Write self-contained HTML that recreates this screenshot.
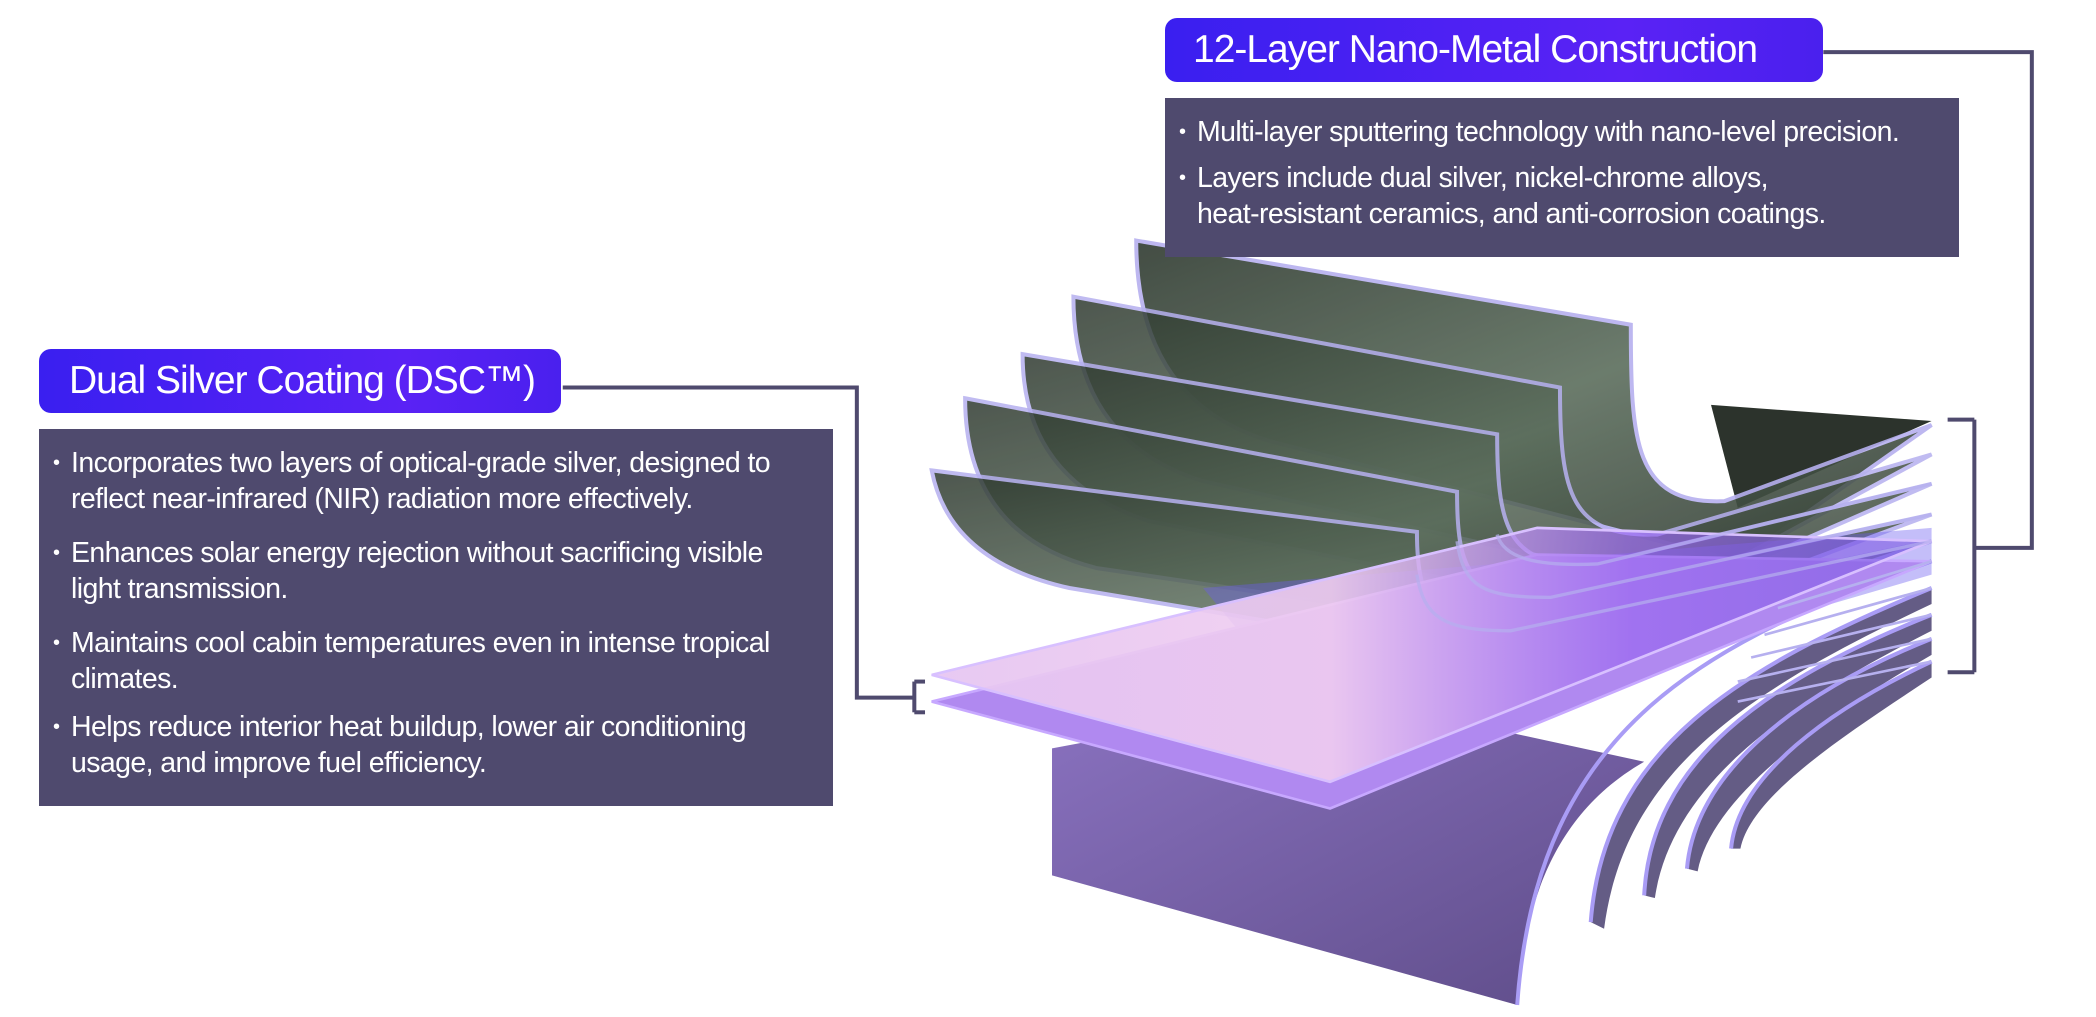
<!DOCTYPE html>
<html><head><meta charset="utf-8"><style>
body{margin:0;width:2096px;height:1017px;background:#fff;position:relative;overflow:hidden;font-family:"Liberation Sans",sans-serif;}
.pill{position:absolute;border-radius:12px;background:linear-gradient(90deg,#3a1ff0,#5a22f5 70%,#4a20ee);color:#fff;font-size:39px;letter-spacing:-1px;box-sizing:border-box;display:flex;align-items:center;white-space:nowrap;}
.box{position:absolute;background:#4f4a6e;color:#fff;font-size:28.5px;letter-spacing:-0.6px;box-sizing:border-box;white-space:nowrap;}
.box p{margin:0;position:relative;padding-left:32px;line-height:36px;}
.box p:before{content:"•";position:absolute;left:14px;font-size:20px;}
svg{position:absolute;left:0;top:0}
</style></head><body>
<svg width="2096" height="1017" viewBox="0 0 1568 761" preserveAspectRatio="none">
<defs>
<linearGradient id="g" x1="0" y1="0" x2="1" y2="1"><stop offset="0" stop-color="#2f3a30"/><stop offset="0.5" stop-color="#5c6e5d"/><stop offset="1" stop-color="#2e372f"/></linearGradient>
<linearGradient id="pk" x1="0" y1="0" x2="1" y2="0"><stop offset="0" stop-color="#e6c6f2" stop-opacity="0.95"/><stop offset="0.4" stop-color="#f0cdf0" stop-opacity="0.9"/><stop offset="0.7" stop-color="#9a68f0" stop-opacity="0.7"/><stop offset="1" stop-color="#7a5ae0" stop-opacity="0.6"/></linearGradient>
<linearGradient id="pu" x1="0" y1="0" x2="1" y2="1"><stop offset="0" stop-color="#8a72c0"/><stop offset="1" stop-color="#5e4c88"/></linearGradient>
</defs>
<g fill="none" stroke="#4f4a6e" stroke-width="3">
<polyline points="421,290 641,290 641,522 684,522"/>
<polyline points="684,510 684,533"/><polyline points="684,510 692,510"/><polyline points="684,533 692,533"/>
<polyline points="1364,39 1520,39 1520,410 1477,410"/>
<polyline points="1477,314 1477,503"/><polyline points="1477,314 1457,314"/><polyline points="1477,503 1457,503"/>
</g>
<path d="M787,560 L787,655 L1135,752 C1140,680 1160,610 1230,570 L1000,520 Z" fill="url(#pu)"/>
<g fill="#4a4070" opacity="0.85">
<path d="M1445,440 C1300,500 1200,560 1190,690 L1200,695 C1215,580 1300,520 1445,452Z"/>
<path d="M1445,460 C1320,510 1235,570 1230,670 L1238,672 C1250,590 1330,530 1445,472Z"/>
<path d="M1445,478 C1340,520 1268,580 1262,650 L1270,652 C1280,600 1350,545 1445,490Z"/>
<path d="M1445,495 C1370,530 1300,580 1295,635 L1302,635 C1310,595 1380,550 1445,507Z"/>
</g>
<g fill="none" stroke="#a99cf5" stroke-width="3">
<path d="M1445,420 C1280,480 1150,540 1135,752"/>
<path d="M1445,440 C1300,500 1200,560 1190,690"/>
<path d="M1445,460 C1320,510 1235,570 1230,670"/>
<path d="M1445,478 C1340,520 1268,580 1262,650"/>
<path d="M1445,495 C1370,530 1300,580 1295,635"/>
</g>
<path d="M1280,303 L1445,315 L1300,380 Z" fill="#2c332c"/>
<g stroke="#b6b0ef" stroke-width="3">
<path d="M850,180 L1220,243 C1220,330 1222,378 1290,375 L1445,318 L1300,420 L950,330 Q850,300 850,180Z" fill="url(#g)" opacity="0.9"/>
<path d="M803,222 L1167,290 C1167,370 1175,402 1240,400 L1445,340 L1260,440 L900,360 Q803,330 803,222Z" fill="url(#g)" opacity="0.85"/>
<path d="M765,265 L1120,325 C1120,400 1130,425 1195,422 L1445,362 L1220,460 L860,390 Q765,360 765,265Z" fill="url(#g)" opacity="0.85"/>
<path d="M722,298 L1090,368 C1090,430 1100,447 1160,447 L1445,385 L1190,480 L820,425 Q722,400 722,298Z" fill="url(#g)" opacity="0.85"/>
<path d="M697,352 L1060,398 C1060,455 1075,472 1130,472 L1445,405 L1160,500 L800,440 Q710,420 697,352Z" fill="url(#g)" opacity="0.85"/>
</g>
<path d="M900,440 L1445,395 L1445,430 L1000,560 Z" fill="#6c5cf0" opacity="0.4"/>
<path d="M697,525 L995,605 L1445,420 L1150,415 Z" fill="#b089f0" stroke="#c7a8ff" stroke-width="2"/>
<path d="M697,505 L995,585 L1445,405 L1150,395 Z" fill="url(#pk)" stroke="#d8c0ff" stroke-width="2"/>
<g fill="none" stroke="#b6b0ef" stroke-width="2.5" opacity="0.7">
<path d="M1120,400 C1125,418 1150,424 1195,422 L1445,362"/>
<path d="M1090,405 C1095,440 1110,447 1160,447 L1445,385"/>
<path d="M1060,430 C1065,462 1080,472 1130,472 L1445,405"/>
</g>
<g fill="none" stroke="#b6b0ef" stroke-width="2">
<path d="M1330,455 L1445,420"/><path d="M1320,475 L1445,440"/><path d="M1310,492 L1445,460"/><path d="M1300,510 L1445,478"/><path d="M1300,525 L1445,495"/>
</g>
</svg>
<div class="pill" style="left:39px;top:349px;width:522px;height:64px;padding-left:30px;">Dual Silver Coating (DSC™)</div>
<div class="box" style="left:39px;top:429px;width:794px;height:377px;padding-top:16px;">
<p>Incorporates two layers of optical-grade silver, designed to<br>reflect near-infrared (NIR) radiation more effectively.</p>
<p style="margin-top:18px">Enhances solar energy rejection without sacrificing visible<br>light transmission.</p>
<p style="margin-top:18px">Maintains cool cabin temperatures even in intense tropical<br>climates.</p>
<p style="margin-top:12px">Helps reduce interior heat buildup, lower air conditioning<br>usage, and improve fuel efficiency.</p>
</div>
<div class="pill" style="left:1165px;top:18px;width:658px;height:64px;padding-left:28px;">12-Layer Nano-Metal Construction</div>
<div class="box" style="left:1165px;top:98px;width:794px;height:159px;padding-top:16px;">
<p>Multi-layer sputtering technology with nano-level precision.</p>
<p style="margin-top:10px">Layers include dual silver, nickel-chrome alloys,<br>heat-resistant ceramics, and anti-corrosion coatings.</p>
</div>
</body></html>
